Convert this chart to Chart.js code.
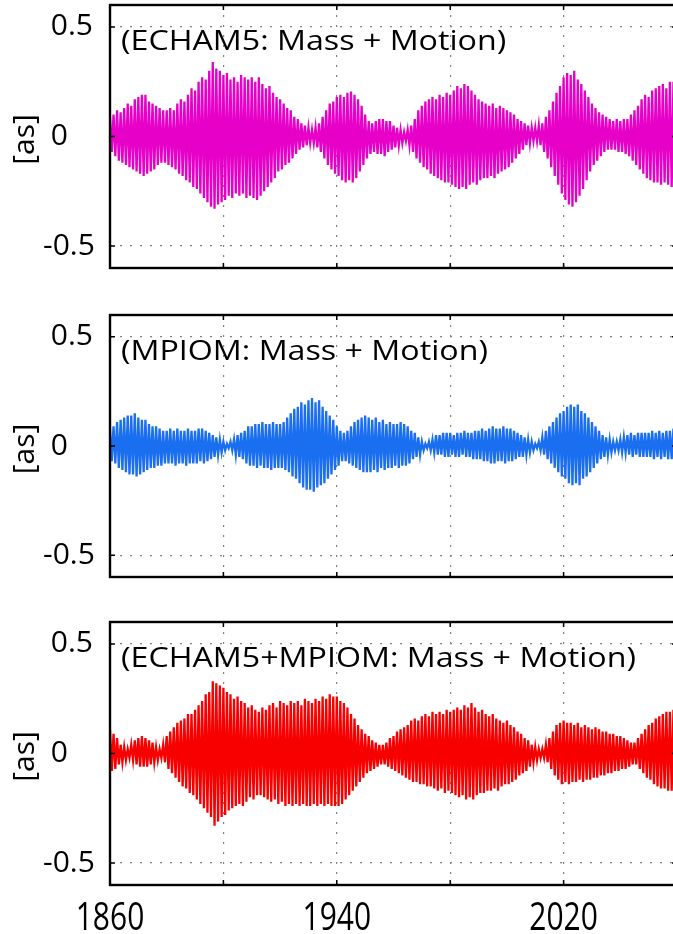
<!DOCTYPE html>
<html>
<head>
<meta charset="utf-8">
<script src="https://cdn.jsdelivr.net/npm/chart.js@4.4.0/dist/chart.umd.min.js"></script>
<style>
html, body { margin: 0; padding: 0; background: #fff; overflow: hidden; }
#wrap { position: relative; width: 673px; height: 934px; overflow: hidden; }
canvas { position: absolute; left: 0; }
</style>
</head>
<body>
<div id="wrap">
  <canvas id="c1" width="700" height="280" style="top:0px;width:700px;height:280px"></canvas>
  <canvas id="c2" width="700" height="290" style="top:300px;width:700px;height:290px"></canvas>
  <canvas id="c3" width="700" height="334" style="top:600px;width:700px;height:334px"></canvas>
</div>
<script>
// time base: one oscillation cycle every 1.25 yr starting 1860
const cycleStart = 1860;
const cycleYears = 1.25;

const xTicks = [1860, 1900, 1940, 1980, 2020, 2060];
const xLabels = [1860, 1940, 2020];
const yTicks = [-0.5, 0, 0.5];

// ECHAM5 - upper / lower peak of each cycle [as], one row per decade
const echamUp = [
  0.09, 0.10, 0.12, 0.11, 0.13, 0.15, 0.14, 0.17,
  0.18, 0.19, 0.19, 0.16, 0.15, 0.14, 0.13, 0.12,
  0.12, 0.13, 0.12, 0.15, 0.17, 0.16, 0.19, 0.22,
  0.21, 0.25, 0.27, 0.26, 0.30, 0.34, 0.31, 0.30,
  0.28, 0.29, 0.26, 0.27, 0.25, 0.28, 0.27, 0.26,
  0.27, 0.25, 0.27, 0.24, 0.22, 0.23, 0.20, 0.18,
  0.17, 0.15, 0.13, 0.12, 0.09, 0.08, 0.06, 0.05,
  0.04, 0.03, 0.04, 0.06, 0.09, 0.12, 0.15, 0.16,
  0.18, 0.19, 0.18, 0.20, 0.205, 0.19, 0.17, 0.14,
  0.10, 0.07, 0.06, 0.07, 0.08, 0.08, 0.07, 0.07,
  0.05, 0.04, 0.03, 0.02, 0.03, 0.05, 0.08, 0.12,
  0.14, 0.16, 0.17, 0.18, 0.17, 0.19, 0.18, 0.20,
  0.19, 0.21, 0.23, 0.22, 0.24, 0.23, 0.21, 0.19,
  0.17, 0.16, 0.15, 0.14, 0.15, 0.13, 0.14, 0.13,
  0.12, 0.11, 0.10, 0.08, 0.07, 0.06, 0.05, 0.04,
  0.04, 0.05, 0.06, 0.09, 0.12, 0.16, 0.20, 0.23,
  0.27, 0.29, 0.28, 0.30, 0.26, 0.24, 0.21, 0.18,
  0.15, 0.13, 0.11, 0.10, 0.09, 0.08, 0.07, 0.08,
  0.07, 0.08, 0.08, 0.10, 0.12, 0.14, 0.17, 0.19,
  0.18, 0.21, 0.22, 0.23, 0.24, 0.22, 0.25, 0.25
];
const echamLo = [
  -0.07, -0.09, -0.11, -0.12, -0.13, -0.14, -0.15, -0.16,
  -0.17, -0.18, -0.17, -0.16, -0.15, -0.13, -0.12, -0.12,
  -0.13, -0.14, -0.15, -0.17, -0.18, -0.20, -0.21, -0.23,
  -0.24, -0.26, -0.28, -0.30, -0.32, -0.33, -0.31, -0.30,
  -0.29, -0.27, -0.28, -0.26, -0.27, -0.26, -0.28, -0.27,
  -0.28, -0.29, -0.27, -0.25, -0.23, -0.21, -0.19, -0.16,
  -0.15, -0.13, -0.12, -0.10, -0.08, -0.06, -0.05, -0.04,
  -0.03, -0.03, -0.05, -0.07, -0.10, -0.13, -0.15, -0.17,
  -0.18, -0.20, -0.21, -0.20, -0.21, -0.19, -0.16, -0.13,
  -0.10, -0.08, -0.07, -0.08, -0.08, -0.09, -0.07, -0.06,
  -0.05, -0.04, -0.03, -0.02, -0.04, -0.07, -0.10, -0.12,
  -0.14, -0.15, -0.17, -0.18, -0.19, -0.20, -0.21, -0.21,
  -0.22, -0.23, -0.24, -0.23, -0.24, -0.22, -0.21, -0.22,
  -0.20, -0.19, -0.19, -0.18, -0.19, -0.17, -0.16, -0.15,
  -0.14, -0.12, -0.10, -0.08, -0.06, -0.04, -0.03, -0.02,
  -0.02, -0.04, -0.07, -0.10, -0.14, -0.18, -0.22, -0.26,
  -0.29, -0.31, -0.32, -0.30, -0.27, -0.24, -0.20, -0.16,
  -0.13, -0.11, -0.09, -0.07, -0.06, -0.06, -0.06, -0.07,
  -0.07, -0.08, -0.09, -0.11, -0.13, -0.15, -0.17, -0.19,
  -0.20, -0.21, -0.21, -0.22, -0.21, -0.22, -0.23, -0.23
];

// MPIOM
const mpiomUp = [
  0.08, 0.09, 0.11, 0.12, 0.13, 0.14, 0.14, 0.15,
  0.13, 0.12, 0.12, 0.10, 0.09, 0.09, 0.08, 0.07,
  0.07, 0.08, 0.07, 0.08, 0.07, 0.07, 0.08, 0.07,
  0.07, 0.08, 0.08, 0.07, 0.06, 0.05, 0.04, 0.03,
  0.02, 0.01, 0.02, 0.03, 0.05, 0.06, 0.07, 0.09,
  0.09, 0.10, 0.10, 0.11, 0.10, 0.10, 0.11, 0.10,
  0.10, 0.11, 0.13, 0.15, 0.17, 0.18, 0.20, 0.19,
  0.21, 0.22, 0.20, 0.21, 0.18, 0.16, 0.14, 0.12,
  0.09, 0.07, 0.06, 0.07, 0.09, 0.11, 0.12, 0.13,
  0.14, 0.13, 0.12, 0.13, 0.11, 0.12, 0.10, 0.11,
  0.10, 0.10, 0.11, 0.10, 0.09, 0.07, 0.06, 0.04,
  0.02, 0.01, 0.02, 0.03, 0.05, 0.05, 0.06, 0.06,
  0.06, 0.05, 0.06, 0.06, 0.07, 0.06, 0.06, 0.07,
  0.07, 0.08, 0.07, 0.08, 0.09, 0.08, 0.08, 0.09,
  0.08, 0.08, 0.07, 0.06, 0.05, 0.04, 0.03, 0.02,
  0.01, 0.02, 0.04, 0.07, 0.09, 0.11, 0.13, 0.15,
  0.16, 0.18, 0.19, 0.18, 0.19, 0.16, 0.15, 0.13,
  0.11, 0.09, 0.07, 0.05, 0.04, 0.03, 0.02, 0.02,
  0.03, 0.04, 0.05, 0.06, 0.05, 0.06, 0.06, 0.06,
  0.06, 0.07, 0.06, 0.07, 0.06, 0.07, 0.07, 0.08
];
const mpiomLo = [
  -0.07, -0.08, -0.10, -0.11, -0.12, -0.13, -0.13, -0.14,
  -0.13, -0.12, -0.11, -0.10, -0.10, -0.09, -0.09, -0.08,
  -0.08, -0.08, -0.09, -0.08, -0.08, -0.09, -0.08, -0.08,
  -0.08, -0.07, -0.08, -0.07, -0.06, -0.05, -0.04, -0.03,
  -0.02, -0.01, -0.02, -0.04, -0.05, -0.06, -0.08, -0.09,
  -0.09, -0.10, -0.09, -0.10, -0.10, -0.11, -0.10, -0.10,
  -0.10, -0.11, -0.12, -0.14, -0.15, -0.17, -0.19, -0.20,
  -0.20, -0.21, -0.19, -0.18, -0.17, -0.15, -0.13, -0.11,
  -0.09, -0.07, -0.07, -0.08, -0.09, -0.10, -0.11, -0.12,
  -0.12, -0.12, -0.11, -0.12, -0.10, -0.11, -0.10, -0.10,
  -0.09, -0.10, -0.09, -0.09, -0.08, -0.06, -0.05, -0.04,
  -0.02, -0.01, -0.02, -0.03, -0.04, -0.04, -0.05, -0.05,
  -0.04, -0.05, -0.05, -0.04, -0.05, -0.05, -0.06, -0.06,
  -0.06, -0.07, -0.07, -0.08, -0.08, -0.07, -0.07, -0.08,
  -0.07, -0.07, -0.06, -0.05, -0.05, -0.04, -0.03, -0.02,
  -0.01, -0.02, -0.04, -0.06, -0.08, -0.10, -0.12, -0.14,
  -0.15, -0.17, -0.18, -0.17, -0.18, -0.15, -0.14, -0.12,
  -0.10, -0.08, -0.06, -0.05, -0.04, -0.03, -0.02, -0.02,
  -0.03, -0.03, -0.04, -0.05, -0.04, -0.05, -0.05, -0.05,
  -0.05, -0.06, -0.05, -0.06, -0.05, -0.06, -0.06, -0.06
];

// ECHAM5+MPIOM
const coupledUp = [
  0.11, 0.09, 0.07, 0.04, 0.03, 0.02, 0.04, 0.06,
  0.07, 0.08, 0.07, 0.06, 0.05, 0.03, 0.02, 0.04,
  0.08, 0.10, 0.12, 0.14, 0.15, 0.16, 0.18, 0.18,
  0.20, 0.22, 0.24, 0.27, 0.28, 0.33, 0.32, 0.31,
  0.30, 0.28, 0.27, 0.25, 0.26, 0.24, 0.23, 0.21,
  0.22, 0.20, 0.19, 0.21, 0.20, 0.22, 0.23, 0.21,
  0.24, 0.23, 0.22, 0.24, 0.23, 0.24, 0.22, 0.25,
  0.24, 0.23, 0.25, 0.24, 0.26, 0.25, 0.27, 0.26,
  0.26, 0.24, 0.23, 0.21, 0.18, 0.16, 0.13, 0.11,
  0.09, 0.08, 0.06, 0.05, 0.04, 0.04, 0.05, 0.07,
  0.08, 0.10, 0.11, 0.12, 0.13, 0.15, 0.16, 0.15,
  0.17, 0.18, 0.17, 0.19, 0.18, 0.19, 0.18, 0.20,
  0.19, 0.20, 0.21, 0.20, 0.22, 0.21, 0.23, 0.21,
  0.19, 0.20, 0.18, 0.17, 0.18, 0.16, 0.15, 0.14,
  0.15, 0.13, 0.12, 0.10, 0.09, 0.07, 0.06, 0.04,
  0.03, 0.02, 0.02, 0.04, 0.07, 0.10, 0.13, 0.14,
  0.15, 0.14, 0.14, 0.13, 0.14, 0.12, 0.13, 0.12,
  0.11, 0.12, 0.11, 0.10, 0.10, 0.09, 0.09, 0.08,
  0.08, 0.07, 0.06, 0.05, 0.05, 0.07, 0.09, 0.11,
  0.13, 0.14, 0.16, 0.17, 0.18, 0.19, 0.19, 0.20
];
const coupledLo = [
  -0.08, -0.07, -0.05, -0.04, -0.03, -0.02, -0.03, -0.05,
  -0.06, -0.06, -0.06, -0.05, -0.04, -0.03, -0.02, -0.04,
  -0.07, -0.09, -0.11, -0.13, -0.15, -0.16, -0.18, -0.19,
  -0.21, -0.23, -0.25, -0.27, -0.29, -0.33, -0.31, -0.29,
  -0.28, -0.26, -0.25, -0.24, -0.23, -0.24, -0.22, -0.20,
  -0.21, -0.19, -0.19, -0.20, -0.21, -0.22, -0.21, -0.23,
  -0.22, -0.24, -0.23, -0.24, -0.23, -0.24, -0.23, -0.24,
  -0.24, -0.23, -0.24, -0.23, -0.24, -0.23, -0.24, -0.24,
  -0.24, -0.23, -0.21, -0.19, -0.17, -0.15, -0.13, -0.11,
  -0.09, -0.08, -0.07, -0.06, -0.05, -0.05, -0.06, -0.07,
  -0.08, -0.09, -0.10, -0.11, -0.12, -0.13, -0.13, -0.14,
  -0.14, -0.15, -0.15, -0.16, -0.17, -0.16, -0.18, -0.17,
  -0.18, -0.19, -0.20, -0.19, -0.21, -0.20, -0.21, -0.19,
  -0.18, -0.18, -0.17, -0.17, -0.16, -0.17, -0.15, -0.14,
  -0.14, -0.13, -0.12, -0.10, -0.09, -0.08, -0.06, -0.04,
  -0.03, -0.02, -0.02, -0.04, -0.07, -0.10, -0.12, -0.14,
  -0.13, -0.14, -0.13, -0.13, -0.12, -0.13, -0.12, -0.12,
  -0.11, -0.11, -0.10, -0.10, -0.09, -0.09, -0.08, -0.08,
  -0.07, -0.07, -0.06, -0.05, -0.05, -0.07, -0.09, -0.11,
  -0.12, -0.14, -0.15, -0.16, -0.16, -0.17, -0.17, -0.17
];

// up / down peaks of every cycle, half a cycle apart
function zigzag(up, lo) {
  const pts = [];
  up.forEach((u, k) => {
    const t = cycleStart + k * cycleYears;
    pts.push({x: t, y: u});
    pts.push({x: t + cycleYears / 2, y: lo[k]});
  });
  return pts;
}

// frame box, inward ticks, panel title, "[as]" and the tall year labels
const matlabBox = {
  id: 'matlabBox',
  afterDraw(chart, args, opts) {
    const ctx = chart.ctx;
    const a = chart.chartArea;
    const xs = chart.scales.x, ys = chart.scales.y;
    ctx.save();
    ctx.strokeStyle = '#000';
    ctx.lineWidth = 1.5;
    ctx.beginPath();
    xTicks.forEach(v => {
      const px = xs.getPixelForValue(v);
      ctx.moveTo(px, a.bottom); ctx.lineTo(px, a.bottom - 5);
      ctx.moveTo(px, a.top); ctx.lineTo(px, a.top + 5);
    });
    yTicks.forEach(v => {
      const py = ys.getPixelForValue(v);
      ctx.moveTo(a.left, py); ctx.lineTo(a.left + 5, py);
      ctx.moveTo(a.right, py); ctx.lineTo(a.right - 5, py);
    });
    ctx.stroke();
    ctx.lineWidth = 2.4;
    ctx.strokeRect(a.left, a.top, a.right - a.left, a.bottom - a.top);

    ctx.fillStyle = '#000';
    ctx.textBaseline = 'alphabetic';
    ctx.textAlign = 'left';
    ctx.font = '28px "Open Sans"';
    ctx.save();
    ctx.translate(a.left + 11, a.top + 45);
    ctx.scale(opts.stretch, 1);
    ctx.fillText(opts.text, 0, 0);
    ctx.restore();

    if (opts.years) {
      ctx.font = '30px "Open Sans"';
      ctx.textAlign = 'center';
      xLabels.forEach(v => {
        ctx.save();
        ctx.translate(xs.getPixelForValue(v), a.bottom + 45);
        ctx.scale(1, 1.3);
        ctx.fillText(String(v), 0, 0);
        ctx.restore();
      });
    }

    ctx.font = '30px "Open Sans"';
    ctx.textAlign = 'center';
    ctx.textBaseline = 'middle';
    ctx.translate(25, ys.getPixelForValue(0) + 3);
    ctx.rotate(-Math.PI / 2);
    ctx.fillText('[as]', 0, 0);
    ctx.restore();
  }
};

function makePanel(id, up, lo, color, title, showX, padTop, padBottom) {
  return new Chart(document.getElementById(id), {
    type: 'line',
    data: {
      datasets: [{
        data: zigzag(up, lo),
        borderColor: color,
        borderWidth: 2.3,
        pointRadius: 0,
        tension: 0
      }]
    },
    options: {
      responsive: false,
      animation: false,
      devicePixelRatio: 1,
      layout: { padding: { left: 43, right: 23, top: padTop, bottom: padBottom } },
      plugins: {
        legend: { display: false },
        tooltip: { enabled: false },
        matlabBox: { text: title, stretch: 1.15, years: showX }
      },
      scales: {
        x: {
          type: 'linear',
          min: 1860,
          max: 2060,
          afterBuildTicks: s => { s.ticks = xTicks.map(v => ({value: v})); },
          afterFit: s => {
            s.height = showX ? 49 : 0;
            s.paddingLeft = 0; s.paddingRight = 0;
          },
          ticks: { display: false },
          grid: { color: '#808080', lineWidth: 1.2, drawTicks: false },
          border: { display: false, dash: [2, 8] }
        },
        y: {
          min: -0.6,
          max: 0.6,
          afterBuildTicks: s => { s.ticks = yTicks.map(v => ({value: v})); },
          afterFit: s => {
            s.width = 67;
            s.paddingTop = 0; s.paddingBottom = 0;
          },
          ticks: {
            crossAlign: 'far',
            color: '#000',
            font: { family: 'Open Sans', size: 30 },
            callback: v => v < 0 ? '-' + Math.abs(v) : ' ' + v
          },
          grid: { color: '#808080', lineWidth: 1.2, drawTicks: false },
          border: { display: false, dash: [2, 8] }
        }
      }
    },
    plugins: [matlabBox]
  });
}

makePanel('c1', echamUp, echamLo, '#E600C8', '(ECHAM5: Mass + Motion)', false, 5, 12);
makePanel('c2', mpiomUp, mpiomLo, '#1A6EF0', '(MPIOM: Mass + Motion)', false, 15, 13);
makePanel('c3', coupledUp, coupledLo, '#F80000', '(ECHAM5+MPIOM: Mass + Motion)', true, 22, 0);
</script>
</body>
</html>
